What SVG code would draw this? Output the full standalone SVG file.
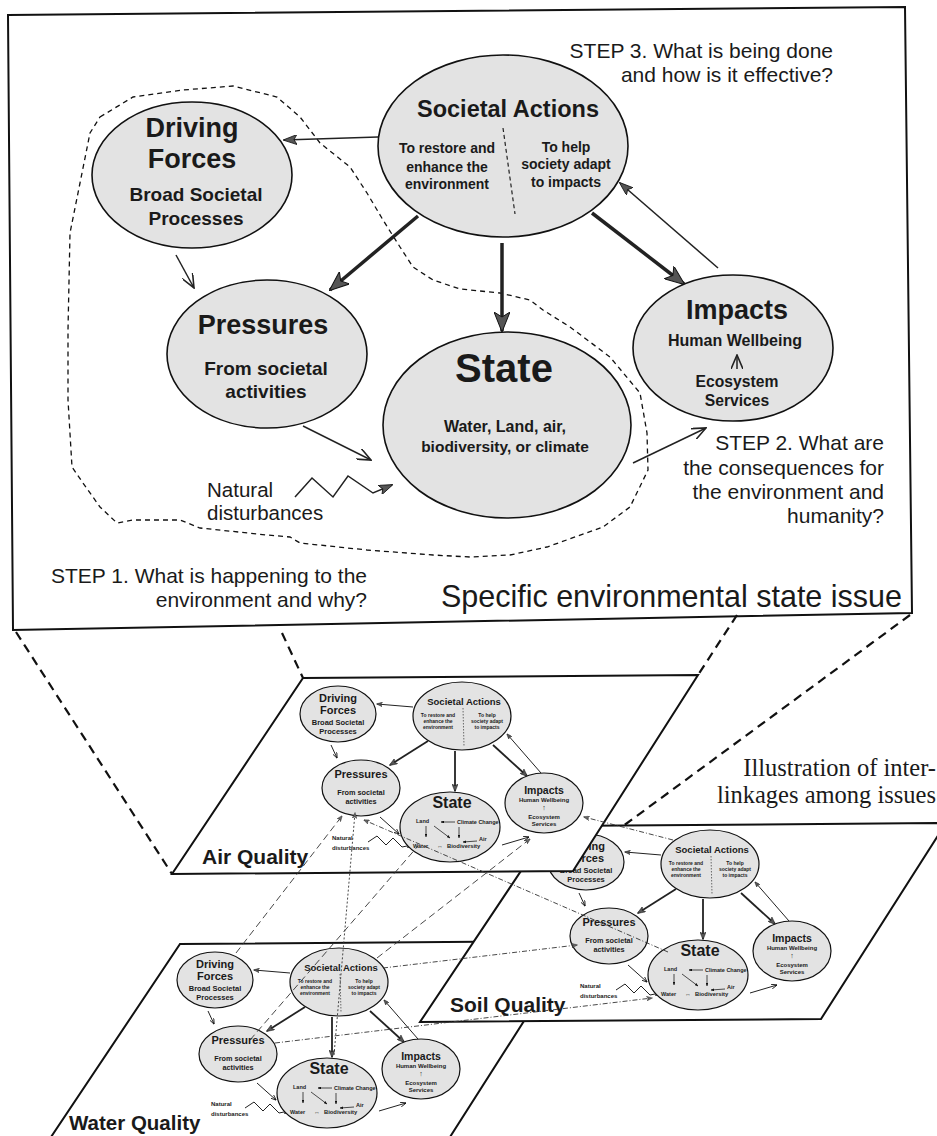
<svg xmlns="http://www.w3.org/2000/svg" width="937" height="1136" viewBox="0 0 937 1136">
<style>
.t{font-family:"Liberation Sans",Arial,sans-serif;fill:#1a1a1a}
.s{font-family:"Liberation Serif","Times New Roman",serif;fill:#1a1a1a}
.b{font-weight:bold}
.c{text-anchor:middle}
.r{text-anchor:end}
.el{fill:#e3e3e3;stroke:#111;stroke-width:1.6}
.mel{fill:#e3e3e3;stroke:#111;stroke-width:1.2}
.plane{fill:#fff;stroke:#111;stroke-width:2}
.thick{stroke:#222;stroke-width:3.5;fill:none}
.thin{stroke:#222;stroke-width:1.5;fill:none}
.mthick{stroke:#222;stroke-width:1.8;fill:none}
.mthin{stroke:#222;stroke-width:1;fill:none}
.tiny{stroke:#222;stroke-width:0.8;fill:none}
.proj{stroke:#111;stroke-width:2.2;fill:none;stroke-dasharray:9 6}
.blob{stroke:#111;stroke-width:1.3;fill:none;stroke-dasharray:5 4}
.ld{stroke:#333;stroke-width:0.9;fill:none;stroke-dasharray:7 4}
.lp{stroke:#333;stroke-width:0.9;fill:none;stroke-dasharray:2 2}
.lx{stroke:#333;stroke-width:0.9;fill:none;stroke-dasharray:5 2 1 2}
</style>
<defs>
<marker id="mThick" viewBox="0 0 20 16" refX="19" refY="8" markerWidth="20" markerHeight="16" orient="auto" markerUnits="userSpaceOnUse"><path d="M0,0 L20,8 L0,16 L5,8 z" fill="#555" stroke="#111" stroke-width="1"/></marker>
<marker id="mOpen" viewBox="0 0 15 12" refX="14" refY="6" markerWidth="15" markerHeight="12" orient="auto" markerUnits="userSpaceOnUse"><path d="M0,0 L14,6 L0,12" fill="none" stroke="#222" stroke-width="1.6"/></marker>
<marker id="mFill" viewBox="0 0 14 10" refX="13" refY="5" markerWidth="14" markerHeight="10" orient="auto" markerUnits="userSpaceOnUse"><path d="M0,0 L14,5 L0,10 L3,5 z" fill="#555" stroke="#111" stroke-width="0.8"/></marker>
<marker id="mmThick" viewBox="0 0 10 8" refX="9" refY="4" markerWidth="8" markerHeight="6.4" orient="auto" markerUnits="userSpaceOnUse"><path d="M0,0 L10,4 L0,8 L2.5,4 z" fill="#555" stroke="#111" stroke-width="0.6"/></marker>
<marker id="mmFill" viewBox="0 0 10 8" refX="9" refY="4" markerWidth="6" markerHeight="4.8" orient="auto" markerUnits="userSpaceOnUse"><path d="M0,0 L10,4 L0,8 L2.5,4 z" fill="#555" stroke="#111" stroke-width="0.6"/></marker>
<marker id="mmOpen" viewBox="0 0 10 8" refX="9.5" refY="4" markerWidth="6" markerHeight="4.8" orient="auto" markerUnits="userSpaceOnUse"><path d="M0,0 L10,4 L0,8" fill="none" stroke="#111" stroke-width="1.4"/></marker>
<marker id="mmTiny" viewBox="0 0 10 8" refX="9" refY="4" markerWidth="3.5" markerHeight="2.8" orient="auto" markerUnits="userSpaceOnUse"><path d="M0,0 L10,4 L0,8 z" fill="#111"/></marker>
<marker id="mLink" viewBox="0 0 10 8" refX="9" refY="4" markerWidth="6" markerHeight="4.8" orient="auto" markerUnits="userSpaceOnUse"><path d="M0,0 L10,4 L0,8 L2.5,4 z" fill="#666" stroke="#222" stroke-width="0.6"/></marker>
</defs>

<rect width="937" height="1136" fill="#fff"/>

<!-- Top frame -->
<g id="frame-top">
<path d="M8,15 L905,7 L912,613 L13,630 Z" fill="none" stroke="#111" stroke-width="2"/>
<path class="blob" d="M100,117 L133,97 L183,90 L233,86 L277,97 L300,117 L320,143 L350,167 L367,193 L383,220 L400,247 L413,267 L433,280 L460,289 L500,293 L530,300 L543,310 L570,327 L610,357 L640,393 L647,433 L648,470 L630,507 L603,527 L547,547 L510,555 L470,557 L433,555 L367,550 L300,543 L290,537 L267,535 L200,528 L180,520 L133,520 L117,523 L100,507 L83,483 L72,467 L68,400 L68,330 L70,233 L80,183 L90,133 Z"/>
</g>

<!-- Main connectors -->
<g id="main-connectors">
<line class="thin" x1="378" y1="137" x2="284" y2="140" marker-end="url(#mFill)"/>
<line class="thick" x1="418" y1="216" x2="330" y2="290" marker-end="url(#mThick)"/>
<line class="thick" x1="502" y1="243" x2="502" y2="331" marker-end="url(#mThick)"/>
<line class="thick" x1="592" y1="213" x2="684" y2="284" marker-end="url(#mThick)"/>
<line class="thin" x1="718" y1="268" x2="620" y2="183" marker-end="url(#mFill)"/>
<line class="thin" x1="176" y1="255" x2="194" y2="288" marker-end="url(#mOpen)"/>
<line class="thin" x1="303" y1="426" x2="371" y2="460" marker-end="url(#mOpen)"/>
<line class="thin" x1="633" y1="463" x2="706" y2="428" marker-end="url(#mOpen)"/>
<polyline class="thin" points="295,497 312,478 333,497 348,476 373,493 392,485" marker-end="url(#mFill)"/>
</g>

<g id="node-driving-forces">
<ellipse class="el" cx="192" cy="175" rx="100" ry="73"/>
<text class="t b c" x="192" y="137" font-size="27">Driving</text>
<text class="t b c" x="192" y="168" font-size="27">Forces</text>
<text class="t b c" x="196" y="201" font-size="19">Broad Societal</text>
<text class="t b c" x="196" y="225" font-size="19">Processes</text>
</g>

<g id="node-societal-actions">
<ellipse class="el" cx="503" cy="146" rx="125" ry="91"/>
<text class="t b c" x="508" y="117" font-size="23.5">Societal Actions</text>
<text class="t b c" x="447" y="153" font-size="14">To restore and</text>
<text class="t b c" x="447" y="172" font-size="14">enhance the</text>
<text class="t b c" x="447" y="189" font-size="14">environment</text>
<text class="t b c" x="566" y="152" font-size="14">To help</text>
<text class="t b c" x="566" y="169" font-size="14">society adapt</text>
<text class="t b c" x="566" y="187" font-size="14">to impacts</text>
<line x1="503" y1="128" x2="515" y2="214" stroke="#222" stroke-width="1.2" stroke-dasharray="4 3"/>
</g>

<g id="node-pressures">
<ellipse class="el" cx="267" cy="354" rx="100" ry="74"/>
<text class="t b c" x="263" y="334" font-size="27">Pressures</text>
<text class="t b c" x="266" y="375" font-size="19">From societal</text>
<text class="t b c" x="266" y="398" font-size="19">activities</text>
</g>

<g id="node-state">
<ellipse class="el" cx="507" cy="425" rx="124" ry="93"/>
<text class="t b c" x="504" y="382" font-size="40">State</text>
<text class="t b c" x="505" y="432" font-size="16">Water, Land, air,</text>
<text class="t b c" x="505" y="452" font-size="15.5">biodiversity, or  climate</text>
</g>

<g id="node-impacts">
<ellipse class="el" cx="733" cy="348" rx="100" ry="73"/>
<text class="t b c" x="737" y="319" font-size="27">Impacts</text>
<text class="t b c" x="735" y="346" font-size="16">Human Wellbeing</text>
<line class="thin" x1="737" y1="369" x2="737" y2="355" marker-end="url(#mOpen)" stroke-width="1.3"/>
<text class="t b c" x="737" y="387" font-size="15.7">Ecosystem</text>
<text class="t b c" x="737" y="406" font-size="15.7">Services</text>
</g>

<g id="labels-main">
<text class="t r" x="833" y="58" font-size="21">STEP 3. What is being done</text>
<text class="t r" x="833" y="82" font-size="21">and how is it effective?</text>
<text class="t r" x="884" y="450" font-size="21">STEP 2. What are</text>
<text class="t r" x="884" y="475" font-size="21">the consequences for</text>
<text class="t r" x="884" y="499" font-size="21">the environment and</text>
<text class="t r" x="884" y="523" font-size="21">humanity?</text>
<text class="t r" x="367" y="583" font-size="21">STEP 1. What is happening to the</text>
<text class="t r" x="367" y="607" font-size="21">environment and why?</text>
<text class="t r" x="902" y="607" font-size="30.5">Specific environmental state issue</text>
<text class="t" x="207" y="497" font-size="20.5">Natural</text>
<text class="t" x="207" y="520" font-size="20.5">disturbances</text>
<text class="s r" x="936" y="776" font-size="24.5">Illustration of inter-</text>
<text class="s r" x="936" y="803" font-size="24.5">linkages among issues</text>
</g>

<!-- projection lines -->
<g id="projection-lines">
<line class="proj" x1="16" y1="632" x2="172" y2="874"/>
<line class="proj" x1="282" y1="633" x2="303" y2="678"/>
<line class="proj" x1="737" y1="615" x2="698" y2="675"/>
<line class="proj" x1="910" y1="615" x2="600" y2="843"/>
</g>

<!-- WATER QUALITY -->
<g id="water-quality" transform="translate(-123,266)">
<path class="plane" d="M303,678 L698,675 L573,871 L172,874 Z"/>
<g id="water-connectors">
<line class="mthin" x1="413" y1="707" x2="377" y2="704" marker-end="url(#mmFill)"/>
<line class="mthin" x1="331" y1="745" x2="337" y2="758" marker-end="url(#mmOpen)"/>
<line class="mthick" x1="428" y1="741" x2="390" y2="765" marker-end="url(#mmThick)"/>
<line class="mthick" x1="455" y1="751" x2="455" y2="791" marker-end="url(#mmThick)"/>
<line class="mthick" x1="493" y1="745" x2="527" y2="776" marker-end="url(#mmThick)"/>
<line class="mthin" x1="541" y1="773" x2="507" y2="734" marker-end="url(#mmFill)"/>
<line class="mthin" x1="380" y1="817" x2="399" y2="834" marker-end="url(#mmOpen)"/>
<polyline class="mthin" points="368,842 377,836 386,845 393,838 402,847 412,845" marker-end="url(#mmFill)"/>
<line class="mthin" x1="502" y1="845" x2="529" y2="837" marker-end="url(#mmOpen)"/>
</g>
<g id="water-driving-forces">
<ellipse class="mel" cx="338" cy="714" rx="38" ry="28"/>
<text class="t b c" x="338" y="702" font-size="11">Driving</text>
<text class="t b c" x="338" y="714" font-size="11">Forces</text>
<text class="t b c" x="338" y="725" font-size="7.5">Broad Societal</text>
<text class="t b c" x="338" y="734" font-size="7.5">Processes</text>
</g>
<g id="water-societal-actions">
<ellipse class="mel" cx="462" cy="716" rx="49" ry="34"/>
<text class="t b c" x="464" y="705" font-size="9.5">Societal Actions</text>
<text class="t b c" x="438" y="717" font-size="5">To restore and</text>
<text class="t b c" x="438" y="723" font-size="5">enhance the</text>
<text class="t b c" x="438" y="729" font-size="5">environment</text>
<text class="t b c" x="487" y="717" font-size="5">To help</text>
<text class="t b c" x="487" y="723" font-size="5">society adapt</text>
<text class="t b c" x="487" y="729" font-size="5">to impacts</text>
<line x1="463" y1="708" x2="464" y2="746" stroke="#333" stroke-width="0.7" stroke-dasharray="1.5 1.5"/>
</g>
<g id="water-pressures">
<ellipse class="mel" cx="361" cy="788" rx="39" ry="28"/>
<text class="t b c" x="361" y="778" font-size="11">Pressures</text>
<text class="t b c" x="361" y="795" font-size="7.3">From societal</text>
<text class="t b c" x="361" y="804" font-size="7.3">activities</text>
</g>
<g id="water-state">
<ellipse class="mel" cx="450" cy="827" rx="50" ry="35"/>
<text class="t b c" x="452" y="808" font-size="16">State</text>
<text class="t b" x="416" y="823" font-size="5.5">Land</text>
<line class="tiny" x1="455" y1="822" x2="441" y2="822" marker-end="url(#mmTiny)"/>
<text class="t b" x="457" y="824" font-size="5.5">Climate Change</text>
<line class="tiny" x1="426" y1="826" x2="426" y2="837" marker-end="url(#mmTiny)"/>
<line class="tiny" x1="434" y1="826" x2="450" y2="838" marker-end="url(#mmTiny)"/>
<line class="tiny" x1="459" y1="827" x2="459" y2="838" marker-end="url(#mmTiny)"/>
<line class="tiny" x1="477" y1="841" x2="463" y2="842" marker-end="url(#mmTiny)"/>
<text class="t b" x="479" y="841" font-size="5.5">Air</text>
<text class="t b" x="413" y="848" font-size="5.5">Water</text>
<text class="t b c" x="440" y="848" font-size="6">↔</text>
<text class="t b" x="447" y="848" font-size="5.8">Biodiversity</text>
</g>
<g id="water-impacts">
<ellipse class="mel" cx="544" cy="803" rx="39" ry="30"/>
<text class="t b c" x="544" y="794" font-size="10.5">Impacts</text>
<text class="t b c" x="544" y="802" font-size="6">Human Wellbeing</text>
<text class="t b c" x="544" y="810" font-size="7">↑</text>
<text class="t b c" x="544" y="819" font-size="6">Ecosystem</text>
<text class="t b c" x="544" y="826" font-size="6">Services</text>
</g>
<g id="water-natural">
<text class="t b" x="334" y="840" font-size="6">Natural</text>
<text class="t b" x="334" y="850" font-size="6">disturbances</text>
</g>
<text class="t b" x="192" y="864" font-size="20.5">Water Quality</text>
</g>

<!-- SOIL QUALITY -->
<g id="soil-quality" transform="translate(248,148)">
<path class="plane" d="M303,678 L698,675 L573,871 L172,874 Z"/>
<g id="soil-connectors">
<line class="mthin" x1="413" y1="707" x2="377" y2="704" marker-end="url(#mmFill)"/>
<line class="mthin" x1="331" y1="745" x2="337" y2="758" marker-end="url(#mmOpen)"/>
<line class="mthick" x1="428" y1="741" x2="390" y2="765" marker-end="url(#mmThick)"/>
<line class="mthick" x1="455" y1="751" x2="455" y2="791" marker-end="url(#mmThick)"/>
<line class="mthick" x1="493" y1="745" x2="527" y2="776" marker-end="url(#mmThick)"/>
<line class="mthin" x1="541" y1="773" x2="507" y2="734" marker-end="url(#mmFill)"/>
<line class="mthin" x1="380" y1="817" x2="399" y2="834" marker-end="url(#mmOpen)"/>
<polyline class="mthin" points="368,842 377,836 386,845 393,838 402,847 412,845" marker-end="url(#mmFill)"/>
<line class="mthin" x1="502" y1="845" x2="529" y2="837" marker-end="url(#mmOpen)"/>
</g>
<g id="soil-driving-forces">
<ellipse class="mel" cx="338" cy="714" rx="38" ry="28"/>
<text class="t b c" x="338" y="702" font-size="11">Driving</text>
<text class="t b c" x="338" y="714" font-size="11">Forces</text>
<text class="t b c" x="338" y="725" font-size="7.5">Broad Societal</text>
<text class="t b c" x="338" y="734" font-size="7.5">Processes</text>
</g>
<g id="soil-societal-actions">
<ellipse class="mel" cx="462" cy="716" rx="49" ry="34"/>
<text class="t b c" x="464" y="705" font-size="9.5">Societal Actions</text>
<text class="t b c" x="438" y="717" font-size="5">To restore and</text>
<text class="t b c" x="438" y="723" font-size="5">enhance the</text>
<text class="t b c" x="438" y="729" font-size="5">environment</text>
<text class="t b c" x="487" y="717" font-size="5">To help</text>
<text class="t b c" x="487" y="723" font-size="5">society adapt</text>
<text class="t b c" x="487" y="729" font-size="5">to impacts</text>
<line x1="463" y1="708" x2="464" y2="746" stroke="#333" stroke-width="0.7" stroke-dasharray="1.5 1.5"/>
</g>
<g id="soil-pressures">
<ellipse class="mel" cx="361" cy="788" rx="39" ry="28"/>
<text class="t b c" x="361" y="778" font-size="11">Pressures</text>
<text class="t b c" x="361" y="795" font-size="7.3">From societal</text>
<text class="t b c" x="361" y="804" font-size="7.3">activities</text>
</g>
<g id="soil-state">
<ellipse class="mel" cx="450" cy="827" rx="50" ry="35"/>
<text class="t b c" x="452" y="808" font-size="16">State</text>
<text class="t b" x="416" y="823" font-size="5.5">Land</text>
<line class="tiny" x1="455" y1="822" x2="441" y2="822" marker-end="url(#mmTiny)"/>
<text class="t b" x="457" y="824" font-size="5.5">Climate Change</text>
<line class="tiny" x1="426" y1="826" x2="426" y2="837" marker-end="url(#mmTiny)"/>
<line class="tiny" x1="434" y1="826" x2="450" y2="838" marker-end="url(#mmTiny)"/>
<line class="tiny" x1="459" y1="827" x2="459" y2="838" marker-end="url(#mmTiny)"/>
<line class="tiny" x1="477" y1="841" x2="463" y2="842" marker-end="url(#mmTiny)"/>
<text class="t b" x="479" y="841" font-size="5.5">Air</text>
<text class="t b" x="413" y="848" font-size="5.5">Water</text>
<text class="t b c" x="440" y="848" font-size="6">↔</text>
<text class="t b" x="447" y="848" font-size="5.8">Biodiversity</text>
</g>
<g id="soil-impacts">
<ellipse class="mel" cx="544" cy="803" rx="39" ry="30"/>
<text class="t b c" x="544" y="794" font-size="10.5">Impacts</text>
<text class="t b c" x="544" y="802" font-size="6">Human Wellbeing</text>
<text class="t b c" x="544" y="810" font-size="7">↑</text>
<text class="t b c" x="544" y="819" font-size="6">Ecosystem</text>
<text class="t b c" x="544" y="826" font-size="6">Services</text>
</g>
<g id="soil-natural">
<text class="t b" x="332" y="840" font-size="6">Natural</text>
<text class="t b" x="332" y="850" font-size="6">disturbances</text>
</g>
<text class="t b" x="202" y="864" font-size="21">Soil Quality</text>
</g>

<!-- AIR QUALITY -->
<g id="air-quality">
<path class="plane" d="M303,678 L698,675 L573,871 L172,874 Z"/>
<g id="air-connectors">
<line class="mthin" x1="413" y1="707" x2="377" y2="704" marker-end="url(#mmFill)"/>
<line class="mthin" x1="331" y1="745" x2="337" y2="758" marker-end="url(#mmOpen)"/>
<line class="mthick" x1="428" y1="741" x2="390" y2="765" marker-end="url(#mmThick)"/>
<line class="mthick" x1="455" y1="751" x2="455" y2="791" marker-end="url(#mmThick)"/>
<line class="mthick" x1="493" y1="745" x2="527" y2="776" marker-end="url(#mmThick)"/>
<line class="mthin" x1="541" y1="773" x2="507" y2="734" marker-end="url(#mmFill)"/>
<line class="mthin" x1="380" y1="817" x2="399" y2="834" marker-end="url(#mmOpen)"/>
<polyline class="mthin" points="368,842 377,836 386,845 393,838 402,847 412,845" marker-end="url(#mmFill)"/>
<line class="mthin" x1="502" y1="845" x2="529" y2="837" marker-end="url(#mmOpen)"/>
</g>
<g id="air-driving-forces">
<ellipse class="mel" cx="338" cy="714" rx="38" ry="28"/>
<text class="t b c" x="338" y="702" font-size="11">Driving</text>
<text class="t b c" x="338" y="714" font-size="11">Forces</text>
<text class="t b c" x="338" y="725" font-size="7.5">Broad Societal</text>
<text class="t b c" x="338" y="734" font-size="7.5">Processes</text>
</g>
<g id="air-societal-actions">
<ellipse class="mel" cx="462" cy="716" rx="49" ry="34"/>
<text class="t b c" x="464" y="705" font-size="9.5">Societal Actions</text>
<text class="t b c" x="438" y="717" font-size="5">To restore and</text>
<text class="t b c" x="438" y="723" font-size="5">enhance the</text>
<text class="t b c" x="438" y="729" font-size="5">environment</text>
<text class="t b c" x="487" y="717" font-size="5">To help</text>
<text class="t b c" x="487" y="723" font-size="5">society adapt</text>
<text class="t b c" x="487" y="729" font-size="5">to impacts</text>
<line x1="463" y1="708" x2="464" y2="746" stroke="#333" stroke-width="0.7" stroke-dasharray="1.5 1.5"/>
</g>
<g id="air-pressures">
<ellipse class="mel" cx="361" cy="788" rx="39" ry="28"/>
<text class="t b c" x="361" y="778" font-size="11">Pressures</text>
<text class="t b c" x="361" y="795" font-size="7.3">From societal</text>
<text class="t b c" x="361" y="804" font-size="7.3">activities</text>
</g>
<g id="air-state">
<ellipse class="mel" cx="450" cy="827" rx="50" ry="35"/>
<text class="t b c" x="452" y="808" font-size="16">State</text>
<text class="t b" x="416" y="823" font-size="5.5">Land</text>
<line class="tiny" x1="455" y1="822" x2="441" y2="822" marker-end="url(#mmTiny)"/>
<text class="t b" x="457" y="824" font-size="5.5">Climate Change</text>
<line class="tiny" x1="426" y1="826" x2="426" y2="837" marker-end="url(#mmTiny)"/>
<line class="tiny" x1="434" y1="826" x2="450" y2="838" marker-end="url(#mmTiny)"/>
<line class="tiny" x1="459" y1="827" x2="459" y2="838" marker-end="url(#mmTiny)"/>
<line class="tiny" x1="477" y1="841" x2="463" y2="842" marker-end="url(#mmTiny)"/>
<text class="t b" x="479" y="841" font-size="5.5">Air</text>
<text class="t b" x="413" y="848" font-size="5.5">Water</text>
<text class="t b c" x="440" y="848" font-size="6">↔</text>
<text class="t b" x="447" y="848" font-size="5.8">Biodiversity</text>
</g>
<g id="air-impacts">
<ellipse class="mel" cx="544" cy="803" rx="39" ry="30"/>
<text class="t b c" x="544" y="794" font-size="10.5">Impacts</text>
<text class="t b c" x="544" y="802" font-size="6">Human Wellbeing</text>
<text class="t b c" x="544" y="810" font-size="7">↑</text>
<text class="t b c" x="544" y="819" font-size="6">Ecosystem</text>
<text class="t b c" x="544" y="826" font-size="6">Services</text>
</g>
<g id="air-natural">
<text class="t b" x="332" y="840" font-size="6">Natural</text>
<text class="t b" x="332" y="850" font-size="6">disturbances</text>
</g>
<text class="t b" x="202" y="864" font-size="21">Air Quality</text>
</g>

<!-- inter-linkages -->
<g id="interlinkages">
<line class="ld" x1="236" y1="953" x2="342" y2="816" marker-end="url(#mLink)"/>
<line class="lp" x1="334" y1="1055" x2="355" y2="813" marker-end="url(#mLink)"/>
<line class="lx" x1="668" y1="952" x2="364" y2="820" marker-end="url(#mLink)"/>
<line class="lx" x1="673" y1="840" x2="584" y2="817" marker-end="url(#mLink)"/>
<line class="lx" x1="383" y1="968" x2="577" y2="945" marker-end="url(#mLink)"/>
<line class="lx" x1="275" y1="1043" x2="652" y2="998" marker-end="url(#mLink)"/>
<line class="ld" x1="250" y1="1040" x2="418" y2="846"/>
<line class="ld" x1="377" y1="958" x2="530" y2="839" marker-end="url(#mLink)"/>
</g>
</svg>
